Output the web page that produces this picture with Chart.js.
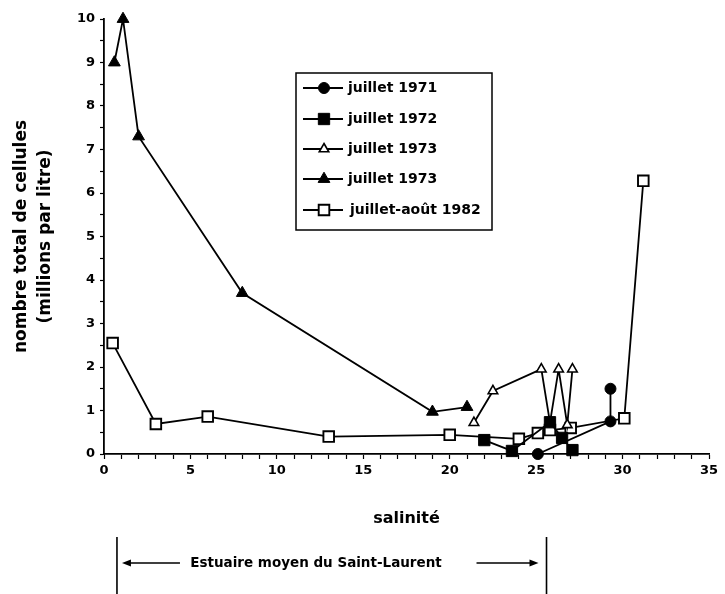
<!DOCTYPE html>
<html>
<head>
<meta charset="utf-8">
<script src="https://cdn.jsdelivr.net/npm/chart.js@4.4.1/dist/chart.umd.min.js"></script>
<style>
  html, body { margin: 0; padding: 0; background: #fff; }
  #wrap { width: 725px; height: 594px; }
</style>
</head>
<body>
<div id="wrap"><canvas id="c" width="725" height="594"></canvas></div>
<script>
// ---- data ----
const legendLabels = ["juillet 1971", "juillet 1972", "juillet 1973", "juillet 1973", "juillet-août 1982"];

const x1971 = [25.1, 29.3, 29.3];
const y1971 = [0.0, 0.75, 1.5];

const x1972 = [22.0, 23.6, 25.8, 26.5, 27.1];
const y1972 = [0.32, 0.07, 0.73, 0.37, 0.09];

const x1973open = [21.4, 22.5, 25.3, 25.8, 26.3, 26.8, 27.1];
const y1973open = [0.72, 1.45, 1.95, 0.72, 1.95, 0.67, 1.95];

const x1973fill = [0.6, 1.1, 2.0, 8.0, 19.0, 21.0];
const y1973fill = [9.0, 10.0, 7.3, 3.7, 0.97, 1.08];

const x1982 = [0.5, 3.0, 6.0, 13.0, 20.0, 24.0, 25.1, 25.8, 27.0, 30.1, 31.2];
const y1982 = [2.55, 0.69, 0.86, 0.40, 0.44, 0.35, 0.48, 0.55, 0.60, 0.82, 6.28];

const xTitle = "salinité";
const yTitle = ["nombre total de cellules", "(millions par litre)"];
const estuaryLabel = "Estuaire moyen du Saint-Laurent";
const estuaryRange = [0.75, 25.6];

const FONT = "'DejaVu Sans', 'Liberation Sans', Arial, sans-serif";

function pts(xs, ys) { return xs.map((x, i) => ({ x: x, y: ys[i] })); }

const styles = [
  { pointStyle: 'circle',   pointRadius: 5.5, pointBackgroundColor: '#000', pointBorderColor: '#000', pointBorderWidth: 1 },
  { pointStyle: 'rect',     pointRadius: 8,   pointBackgroundColor: '#000', pointBorderColor: '#000', pointBorderWidth: 1 },
  { pointStyle: 'triangle', pointRadius: 5.5, pointBackgroundColor: '#fff', pointBorderColor: '#000', pointBorderWidth: 1.6 },
  { pointStyle: 'triangle', pointRadius: 6.8, pointBackgroundColor: '#000', pointBorderColor: '#000', pointBorderWidth: 1 },
  { pointStyle: 'rect',     pointRadius: 7.5, pointBackgroundColor: '#fff', pointBorderColor: '#000', pointBorderWidth: 1.9 }
];
const seriesData = [pts(x1971, y1971), pts(x1972, y1972), pts(x1973open, y1973open), pts(x1973fill, y1973fill), pts(x1982, y1982)];

const datasets = seriesData.map((d, i) => Object.assign({
  label: legendLabels[i],
  data: d,
  showLine: true,
  borderColor: '#000',
  borderWidth: 1.8,
  backgroundColor: '#000',
  clip: false,
  pointHoverRadius: styles[i].pointRadius
}, styles[i]));

const customLegend = {
  id: 'customLegend',
  afterDraw(chart) {
    const ctx = chart.ctx;
    ctx.save();
    const bx = 296, by = 73, bw = 196, bh = 157;
    ctx.strokeStyle = '#000';
    ctx.lineWidth = 1.5;
    ctx.strokeRect(bx, by, bw, bh);
    const rows = [88, 119, 149, 179, 210];
    ctx.font = "bold 14px " + FONT;
    ctx.fillStyle = '#000';
    ctx.textBaseline = 'middle';
    ctx.textAlign = 'left';
    legendLabels.forEach((lab, i) => {
      const y = rows[i];
      ctx.beginPath();
      ctx.lineWidth = 1.8;
      ctx.strokeStyle = '#000';
      ctx.moveTo(303, y); ctx.lineTo(343, y);
      ctx.stroke();
      const s = styles[i];
      const opts = { pointStyle: s.pointStyle, radius: s.pointRadius, borderWidth: s.pointBorderWidth, rotation: 0 };
      ctx.fillStyle = s.pointBackgroundColor;
      ctx.strokeStyle = s.pointBorderColor;
      ctx.lineWidth = s.pointBorderWidth;
      Chart.helpers.drawPoint(ctx, opts, 324, y);
      ctx.fillStyle = '#000';
      ctx.fillText(lab, i === 4 ? 350 : 348, y);
    });
    ctx.restore();
  }
};

const estuary = {
  id: 'estuary',
  afterDraw(chart) {
    const ctx = chart.ctx;
    const xs = chart.scales.x;
    const xa = xs.getPixelForValue(estuaryRange[0]);
    const xb = xs.getPixelForValue(estuaryRange[1]);
    const yl = 563;
    ctx.save();
    ctx.strokeStyle = '#000';
    ctx.fillStyle = '#000';
    ctx.lineWidth = 1.6;
    ctx.beginPath();
    ctx.moveTo(xa, 537); ctx.lineTo(xa, 594);
    ctx.moveTo(xb, 537); ctx.lineTo(xb, 594);
    ctx.stroke();
    ctx.beginPath();
    ctx.moveTo(xa + 12, yl); ctx.lineTo(xa + 63, yl);
    ctx.moveTo(xb - 70, yl); ctx.lineTo(xb - 14, yl);
    ctx.stroke();
    ctx.beginPath();
    ctx.moveTo(xa + 5, yl); ctx.lineTo(xa + 14, yl - 3.5); ctx.lineTo(xa + 14, yl + 3.5); ctx.closePath();
    ctx.fill();
    ctx.beginPath();
    ctx.moveTo(xb - 8, yl); ctx.lineTo(xb - 17, yl - 3.5); ctx.lineTo(xb - 17, yl + 3.5); ctx.closePath();
    ctx.fill();
    ctx.font = "bold 13.5px " + FONT;
    ctx.textAlign = 'center';
    ctx.textBaseline = 'middle';
    ctx.fillText(estuaryLabel, 316, yl);
    ctx.restore();
  }
};

new Chart(document.getElementById('c'), {
  type: 'scatter',
  data: { datasets: datasets },
  options: {
    responsive: false,
    animation: false,
    events: [],
    layout: { padding: { top: 19, right: 16, left: 0, bottom: 0 } },
    plugins: { legend: { display: false }, tooltip: { enabled: false } },
    scales: {
      x: {
        type: 'linear', min: 0, max: 35,
        afterFit(s) { s.height = 140; },
        border: { display: true, color: '#000', width: 1.8 },
        grid: { display: true, drawOnChartArea: false, drawTicks: true, tickLength: 5, color: '#000', tickWidth: 1.2 },
        ticks: {
          stepSize: 1, autoSkip: false, maxRotation: 0, padding: 4, color: '#000',
          font: { family: FONT, size: 13, weight: 'bold' },
          callback: (v) => (v % 5 === 0 ? String(v) : '')
        },
        title: {
          display: true, text: xTitle, color: '#000',
          font: { family: FONT, size: 16, weight: 'bold' },
          padding: { top: 0, bottom: 66 }
        }
      },
      y: {
        type: 'linear', min: 0, max: 10,
        afterFit(s) { s.width = 104; },
        border: { display: true, color: '#000', width: 1.8 },
        grid: { display: true, drawOnChartArea: false, drawTicks: true, tickLength: 4, color: '#000', tickWidth: 1.2 },
        ticks: {
          stepSize: 0.5, autoSkip: false, padding: 5, color: '#000',
          font: { family: FONT, size: 13, weight: 'bold' },
          callback: (v) => (Number.isInteger(v) ? String(v) : '')
        },
        title: {
          display: true, text: yTitle, color: '#000',
          font: { family: FONT, size: 17, weight: 'bold', lineHeight: 1.41 },
          padding: { top: 10, bottom: 0 }
        }
      }
    }
  },
  plugins: [customLegend, estuary]
});
</script>
</body>
</html>
